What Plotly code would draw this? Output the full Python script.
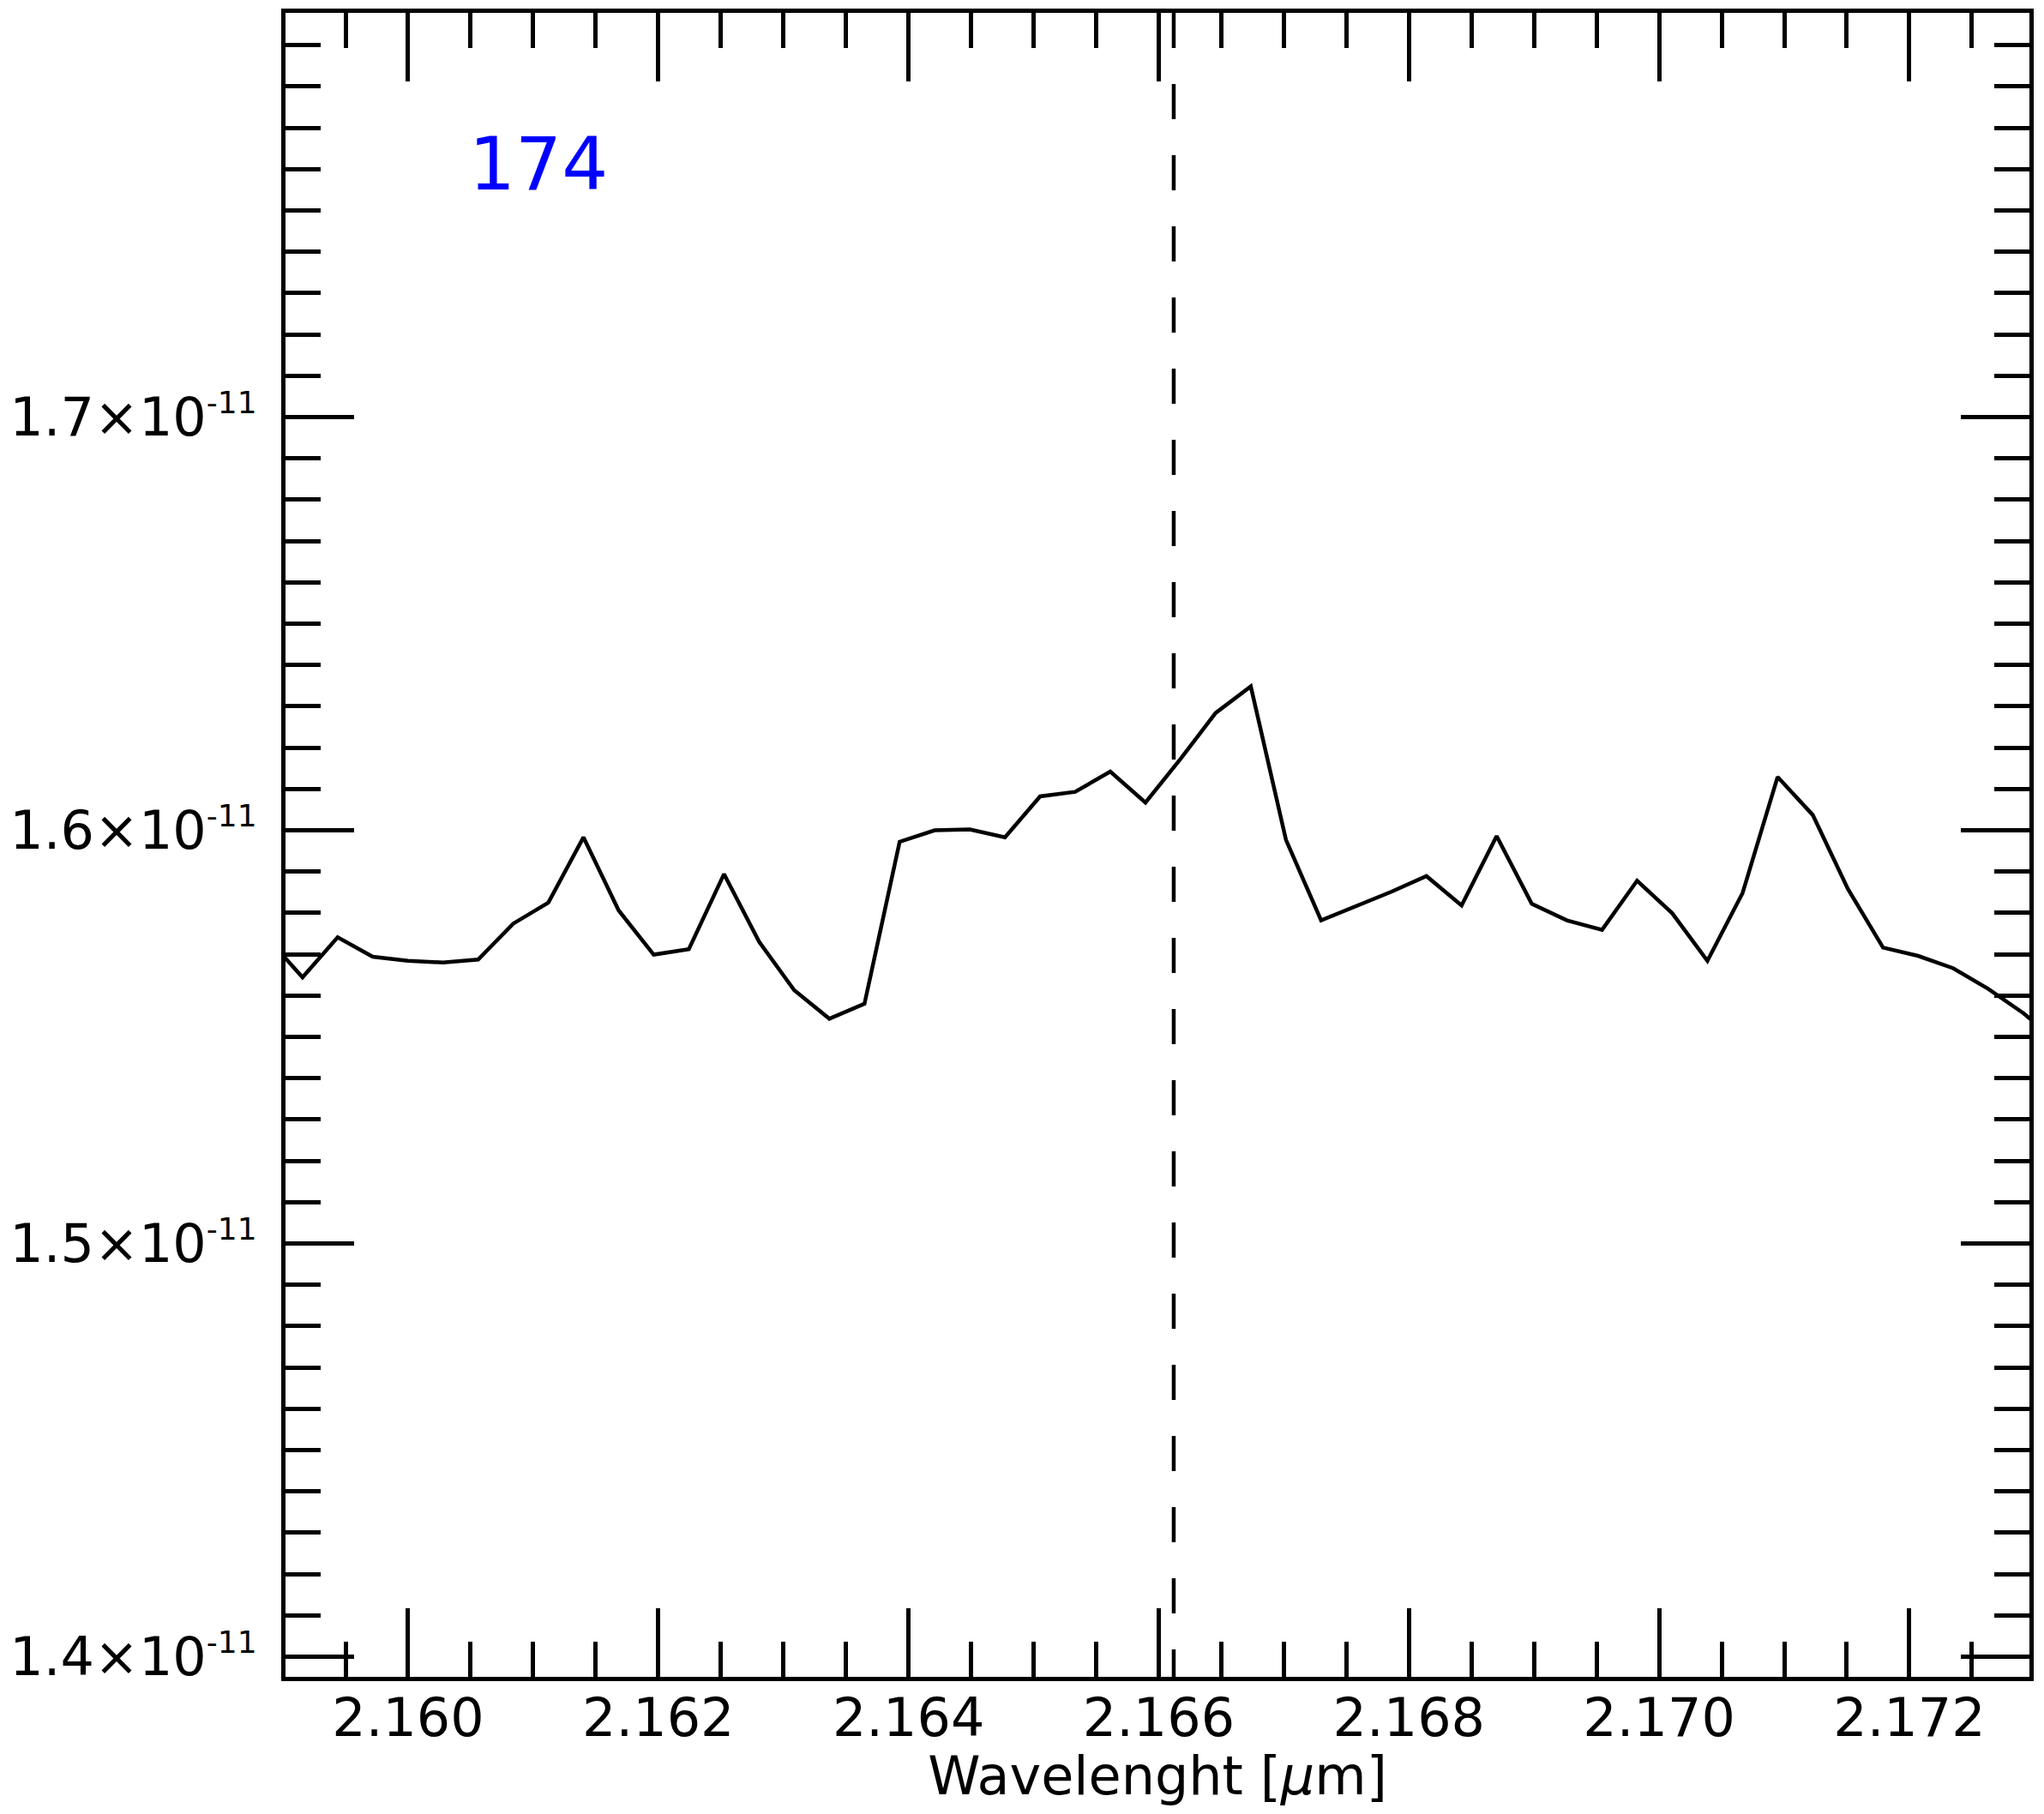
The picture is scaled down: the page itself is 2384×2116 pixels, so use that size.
import plotly.graph_objects as go


wavelength = [
    2.158875, 2.159156, 2.159437, 2.159717, 2.159998, 2.160279, 2.160560, 2.160840,
    2.161121, 2.161402, 2.161683, 2.161963, 2.162244, 2.162525, 2.162806, 2.163086,
    2.163367, 2.163648, 2.163929, 2.164209, 2.164490, 2.164771, 2.165052, 2.165332,
    2.165613, 2.165894, 2.166175, 2.166455, 2.166736, 2.167017, 2.167298, 2.167578,
    2.167859, 2.168140, 2.168421, 2.168701, 2.168982, 2.169263, 2.169544, 2.169824,
    2.170105, 2.170386, 2.170667, 2.170947, 2.171228, 2.171509, 2.171790, 2.172070,
    2.172351, 2.172632, 2.172913, 2.173193,
]

flux = [
    1.5739e-11, 1.5644e-11, 1.5741e-11, 1.5694e-11, 1.5684e-11, 1.5680e-11, 1.5687e-11, 1.5774e-11,
    1.5825e-11, 1.5983e-11, 1.5806e-11, 1.5699e-11, 1.5712e-11, 1.5894e-11, 1.5730e-11, 1.5613e-11,
    1.5544e-11, 1.5580e-11, 1.5972e-11, 1.6000e-11, 1.6002e-11, 1.5983e-11, 1.6082e-11, 1.6093e-11,
    1.6142e-11, 1.6067e-11, 1.6173e-11, 1.6284e-11, 1.6348e-11, 1.5977e-11, 1.5782e-11, 1.5817e-11,
    1.5851e-11, 1.5889e-11, 1.5818e-11, 1.5986e-11, 1.5822e-11, 1.5782e-11, 1.5759e-11, 1.5878e-11,
    1.5799e-11, 1.5684e-11, 1.5848e-11, 1.6129e-11, 1.6037e-11, 1.5858e-11, 1.5716e-11, 1.5696e-11,
    1.5666e-11, 1.5616e-11, 1.5557e-11, 1.5486e-11,
]

line_center = 2.16612
label_text = '174'
label_x = 2.16104
label_y = 1.7613e-11

y_tickvals = [1.4e-11, 1.5e-11, 1.6e-11, 1.7e-11]
y_mantissa = ['1.4', '1.5', '1.6', '1.7']
x_tickvals = [2.160, 2.162, 2.164, 2.166, 2.168, 2.170, 2.172]
x_ticktext = ['2.160', '2.162', '2.164', '2.166', '2.168', '2.170', '2.172']

y_ticktext = [m + '×10<sup><span style="font-size:36px">-11</span></sup>' for m in y_mantissa]


fig = go.Figure()

fig.add_trace(go.Scatter(
    x=wavelength,
    y=flux,
    mode='lines',
    line=dict(color='black', width=4.5),
    showlegend=False,
))

# vertical marker for the line centre, dashes start at the top
fig.add_shape(
    type='line', xref='x', yref='paper',
    x0=line_center, x1=line_center, y0=1, y1=0,
    line=dict(color='black', width=4.5, dash='41px,42px'),
)

fig.add_annotation(
    x=label_x, y=label_y, text=label_text, showarrow=False,
    font=dict(family='DejaVu Sans', size=85, color='#0000ff'),
    xanchor='center', yanchor='middle',
)

axis_style = dict(
    showline=True, linewidth=5, linecolor='black', mirror='allticks',
    ticks='inside', ticklen=80, tickwidth=4.5, tickcolor='black',
    showgrid=False, zeroline=False, automargin=False,
    tickfont=dict(family='DejaVu Sans', size=62, color='black'),
)

fig.update_xaxes(
    range=[2.15902, 2.17296],
    tickmode='array', tickvals=x_tickvals, ticktext=x_ticktext,
    ticklabelstandoff=-10,
    minor=dict(tickmode='linear', tick0=2.159, dtick=0.0005, ticks='inside',
               ticklen=41, tickwidth=4.5, tickcolor='black', showgrid=False),
    title=dict(text='Wavelenght [<i>μ</i>m]',
               font=dict(family='DejaVu Sans', size=62, color='black'),
               standoff=0),
    **axis_style,
)

fig.update_yaxes(
    range=[1.39512e-11, 1.79782e-11],
    tickmode='array', tickvals=y_tickvals, ticktext=y_ticktext,
    ticklabelstandoff=16,
    minor=dict(tickmode='linear', tick0=1.4e-11, dtick=1e-13, ticks='inside',
               ticklen=41, tickwidth=4.5, tickcolor='black', showgrid=False),
    **axis_style,
)

# page body keeps its 8px margin, so the figure is 16px smaller than the window
fig.update_layout(
    width=2368, height=2100,
    margin=dict(l=325, r=9, t=7, b=152, autoexpand=False),
    plot_bgcolor='white', paper_bgcolor='white',
    font=dict(family='DejaVu Sans', color='black'),
)

fig.write_html('out.html')
